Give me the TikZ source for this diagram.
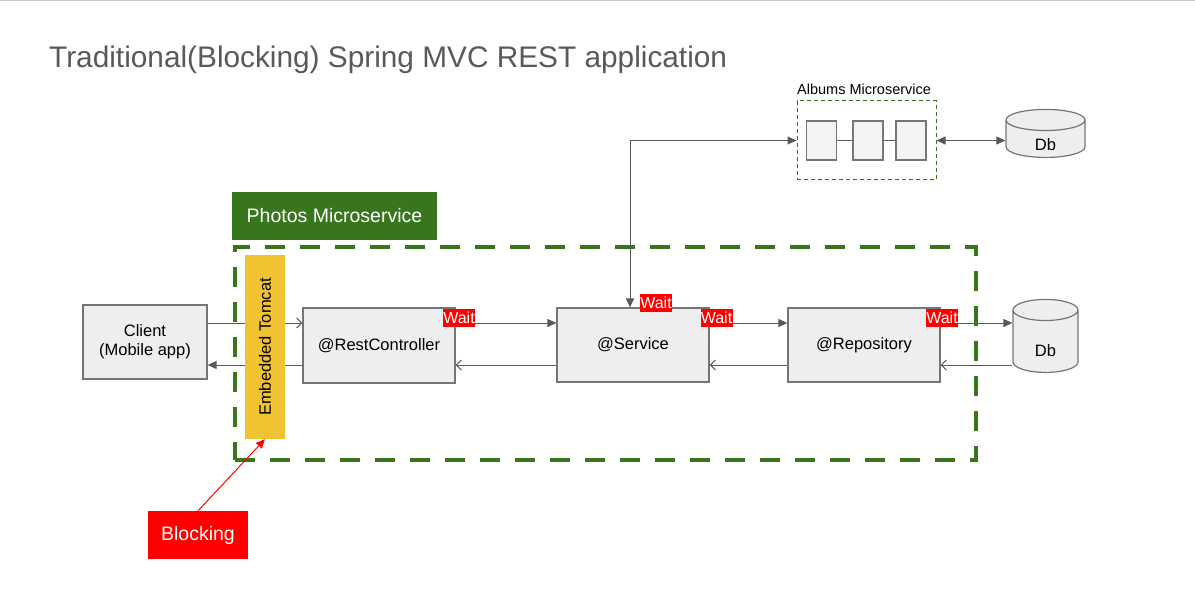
\documentclass[tikz,border=0pt]{standalone}
\usepackage{fontspec}
\setmainfont{Liberation Sans}
\usetikzlibrary{shapes.geometric,arrows.meta}
\definecolor{photosgreen}{HTML}{38761D}
\definecolor{tomcatyellow}{HTML}{F1C232}
\definecolor{boxfill}{HTML}{EEEEEE}
\definecolor{slotfill}{HTML}{F3F3F3}
\definecolor{boxline}{HTML}{757575}
\definecolor{wiregray}{HTML}{595959}
\definecolor{titlegray}{HTML}{595959}
\tikzset{
x=1pt, y=-1pt,
wire/.style={draw=wiregray, line width=1pt},
fwd/.style={wire, -{Triangle[length=9pt,width=8pt]}},
bwd/.style={wire, -{Straight Barb[length=5pt,width=10pt]}},
both/.style={wire, {Triangle[length=9pt,width=8pt]}-{Triangle[length=9pt,width=8pt]}},
layer/.style={draw=boxline, line width=1.2pt, fill=boxfill, inner sep=0pt,
  minimum width=152pt, minimum height=75pt, align=center,
  font=\fontsize{16.5}{19}\selectfont},
db/.style={cylinder, shape border rotate=90, aspect=1.0, draw=boxline,
  line width=1.2pt, fill=boxfill, inner sep=0pt, font=\fontsize{16.5}{19}\selectfont},
slot/.style={draw=boxline, line width=1.2pt, fill=slotfill, minimum width=30pt, minimum height=39pt, inner sep=0pt},
waitlbl/.style={fill=red, text=white, inner sep=0pt, minimum width=32pt, minimum height=18pt,
  font=\fontsize{16}{16}\selectfont},
banner/.style={text=white, inner sep=0pt, minimum height=48pt, font=\fontsize{19.5}{23}\selectfont},
}
\begin{document}
\begin{tikzpicture}
\useasboundingbox (0,0) rectangle (1195,591);
\draw[gray!40, line width=1pt] (0,1) -- (1195,1);

\node[anchor=base west, inner sep=0pt, text=titlegray, font=\fontsize{29.8}{34}\selectfont] (title) at (49,68)
  {Traditional(Blocking) Spring MVC REST application};

% albums side
\node[anchor=base west, inner sep=0pt, font=\fontsize{14.5}{17}\selectfont] (albumslbl) at (797,95) {Albums Microservice};
\node[draw=photosgreen, line width=1pt, dash pattern=on 4pt off 3pt, minimum width=139pt, minimum height=79pt] (albums) at (866.5,140.5) {};
\node[slot] (a1) at (821.5,140.5) {};
\node[slot] (a2) at (868,140.5) {};
\node[slot] (a3) at (911,140.5) {};
\draw[wire] (a1) -- (a2);
\draw[wire] (a2) -- (a3);
\node[db, minimum width=79pt, minimum height=48pt] (adb) at (1045.5,139) {\raisebox{-12pt}[0pt][0pt]{Db}};

% photos side
\node[banner, fill=photosgreen, minimum width=205pt] (photoslbl) at (334.5,216) {Photos Microservice};
\node[draw=photosgreen, line width=4pt, dash pattern=on 20pt off 15pt, minimum width=741pt, minimum height=213pt] (photos) at (605.5,353.5) {};

\node[layer, minimum width=124pt, minimum height=74pt] (client) at (145,342) {Client\\(Mobile app)};
\node[layer] (rest) at (379,345.5) {@RestController};
\node[layer, minimum height=74pt] (service) at (633,345) {@Service};
\node[layer, minimum height=74pt] (repo) at (864,345) {@Repository};
\node[db, minimum width=65pt, minimum height=73pt] (db) at (1045.5,341.5) {\raisebox{-14.5pt}[0pt][0pt]{Db}};

\coordinate (fy) at (0,323);
\coordinate (by) at (0,365);
\draw[bwd] (client.east |- fy) -- (rest.west |- fy);
\draw[fwd] (rest.west |- by) -- (client.east |- by);
\draw[fwd] (rest.east |- fy) -- (service.west |- fy);
\draw[bwd] (service.west |- by) -- (rest.east |- by);
\draw[fwd] (service.east |- fy) -- (repo.west |- fy);
\draw[bwd] (repo.west |- by) -- (service.east |- by);
\draw[fwd] (repo.east |- fy) -- (db.west |- fy);
\draw[bwd] (db.west |- by) -- (repo.east |- by);

\draw[both] ([xshift=-3pt]service.north) |- (albums.west);
\draw[both] (albums.east) -- (albums.east -| adb.west);

\node[fill=tomcatyellow, inner sep=0pt, minimum width=40pt, minimum height=184pt, font=\fontsize{16.5}{19}\selectfont] (tomcat) at (265,347)
  {\rotatebox{90}{Embedded Tomcat}};

\node[waitlbl] (w1) at (459,317.5) {Wait};
\node[waitlbl] (w2) at (656,302.5) {Wait};
\node[waitlbl] (w3) at (716.5,318) {Wait};
\node[waitlbl] (w4) at (942,318) {Wait};

\node[banner, fill=red, minimum width=100pt] (blocking) at (198,535) {Blocking};
\draw[draw=red, line width=1pt, -{Triangle[length=9pt,width=8pt]}] (blocking.north) -- (tomcat.south);
\end{tikzpicture}
\end{document}
